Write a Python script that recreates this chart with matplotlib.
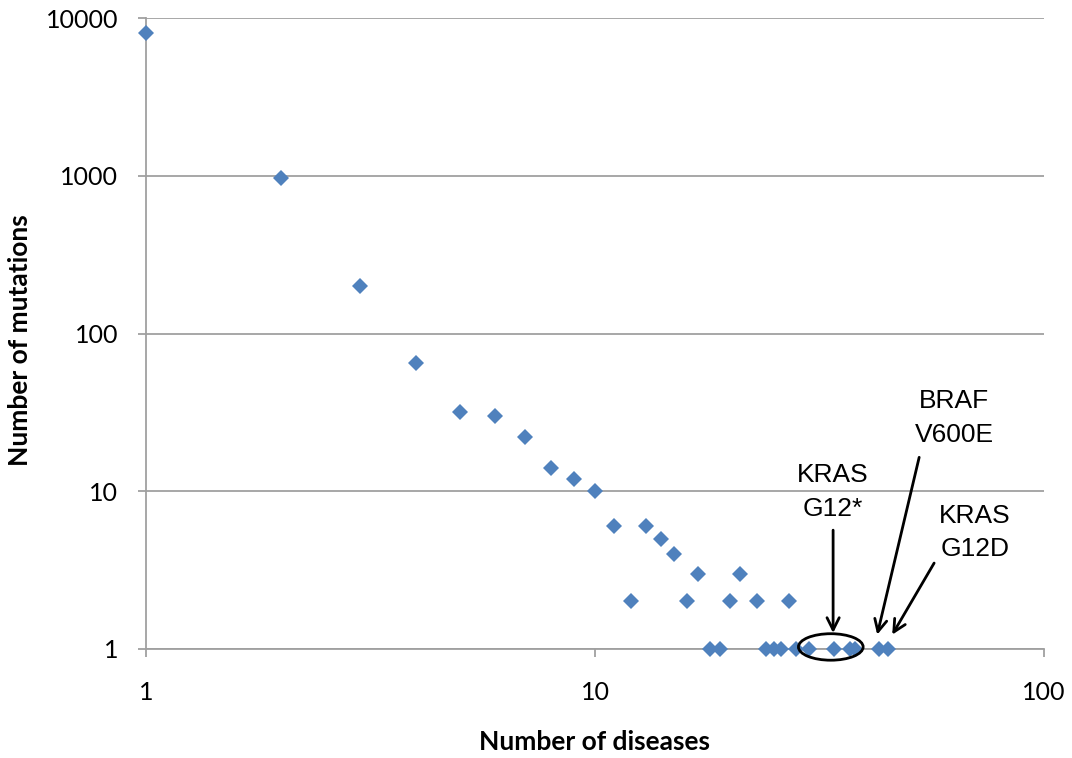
import matplotlib.pyplot as plt
from matplotlib.patches import Ellipse

# number of diseases a mutation appears in, and how many mutations that is
diseases = [1, 2, 3, 4, 5, 6, 7, 8, 9, 10, 11, 12, 13, 14, 15, 16, 17,
            18, 19, 20, 21, 23, 24, 25, 26, 27, 28, 30, 34, 37, 38, 43, 45]
mutations = [8000, 970, 200, 65, 32, 30, 22, 14, 12, 10, 6, 2, 6, 5, 4, 2, 3,
             1, 1, 2, 3, 2, 1, 1, 1, 2, 1, 1, 1, 1, 1, 1, 1]

xticks = [1, 10, 100]
yticks = [1, 10, 100, 1000, 10000]

tick_font = 'Lato'
note_font = 'Liberation Sans'

fig = plt.figure(figsize=(10.72, 7.58), dpi=100)
ax = fig.add_axes([0.136, 0.144, 0.838, 0.832])

ax.set_xscale('log')
ax.set_yscale('log')
ax.set_xlim(1, 100)
ax.set_ylim(1, 10000)

ax.plot(diseases, mutations, 'D', color='#4F81BD', markersize=8,
        markeredgewidth=0, clip_on=False, zorder=3)

# axes styling, Excel-like
grey = '#a0a0a0'
ax.grid(True, axis='y', which='major', color=grey, linewidth=1.3)
for s in ['top', 'right']:
    ax.spines[s].set_visible(False)
for s in ['left', 'bottom']:
    ax.spines[s].set_color(grey)
    ax.spines[s].set_linewidth(1.3)

ax.set_xticks(xticks)
ax.set_xticklabels([str(v) for v in xticks], fontsize=18, family=tick_font)
ax.set_yticks(yticks)
ax.set_yticklabels([str(v) for v in yticks], fontsize=18, family=tick_font)
ax.minorticks_off()
ax.tick_params(axis='y', direction='out', length=6, width=1.3, color=grey, pad=14)
ax.tick_params(axis='x', direction='out', length=6, width=1.3, color=grey, pad=17)

ax.set_xlabel('Number of diseases', fontsize=19, fontweight='bold',
              family=tick_font)
ax.xaxis.set_label_coords(0.5, -0.128)
ax.set_ylabel('Number of mutations', fontsize=19, fontweight='bold',
              family=tick_font)
ax.yaxis.set_label_coords(-0.127, 0.49)

# ellipse around the KRAS G12* group (axes coords, so it stays round on log axes)
cx, cy = ax.transAxes.inverted().transform(ax.transData.transform((33.5, 1)))
ell = Ellipse((cx, cy + 0.003), width=0.072, height=0.042, transform=ax.transAxes,
              fill=False, edgecolor='black', linewidth=2, zorder=4, clip_on=False)
ax.add_patch(ell)

arrow = dict(arrowstyle='->', color='black', linewidth=2,
             mutation_scale=22, shrinkA=0, shrinkB=0)
ax.annotate('', xy=(33.9, 1.26), xytext=(33.9, 5.66), arrowprops=arrow)
ax.annotate('', xy=(42.5, 1.23), xytext=(52.7, 16.4), arrowprops=arrow)
ax.annotate('', xy=(45.9, 1.23), xytext=(56.9, 3.5), arrowprops=arrow)

note = dict(fontsize=19, family=note_font, ha='center', va='center',
            linespacing=1.5)
ax.text(33.9, 9.9, 'KRAS\nG12*', **note)
ax.text(63.0, 29.2, 'BRAF\nV600E', **note)
ax.text(70.2, 5.46, 'KRAS\nG12D', **note)

fig.savefig('out.png', dpi=100)
